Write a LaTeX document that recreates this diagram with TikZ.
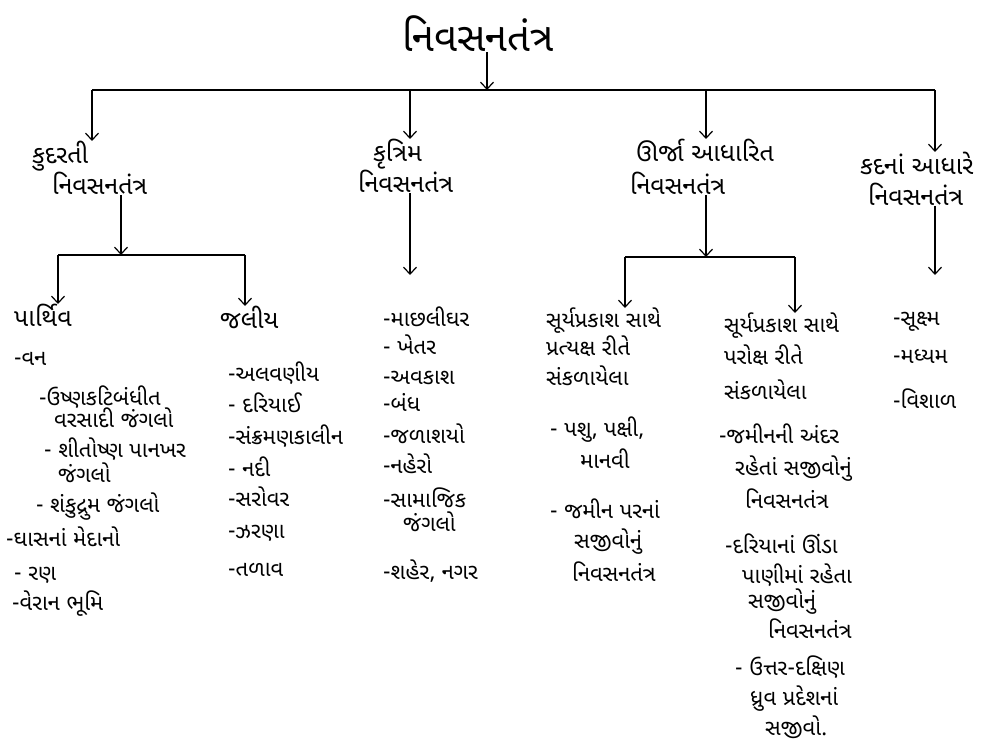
\documentclass[tikz,border=0pt]{standalone}
\usepackage{fontspec}
\newfontfamily\guj[Script=Gujarati]{Noto Sans Gujarati UI}
\usetikzlibrary{arrows.meta}
\begin{document}
\begin{tikzpicture}[x=1pt,y=-1pt,
  txt/.style={inner sep=0pt,anchor=north west,align=left,font=\guj\fontsize{22}{30}\selectfont},
  head/.style={txt,font=\guj\fontsize{25}{31}\selectfont},
  conn/.style={line width=1.2pt},
  arr/.style={conn,-{Straight Barb[length=7pt,width=13pt,line width=1.2pt]}}]
\fill[white] (0,0) rectangle (995,751);
\useasboundingbox (0,0) rectangle (995,751);
% title
\node[inner sep=0pt,font=\guj\fontsize{40}{46}\selectfont] (title) at (478,34) {નિવસનતંત્ર};
% level 1
\node[head] (kud) at (32,141) {કુદરતી\\\hspace{20pt}નિવસનતંત્ર};
\node[head] (kru) at (358,139) {\hspace{15pt}કૃત્રિમ\\નિવસનતંત્ર};
\node[head] (urja) at (630,139) {\hspace{6pt}ઊર્જા આધારિત\\[2pt]નિવસનતંત્ર};
\node[head] (kad) at (860,152) {કદનાં આધારે\\\hspace{8pt}નિવસનતંત્ર};
% junctions top bar
\coordinate (top) at (487,90);
\coordinate (b1) at (92,90);
\coordinate (b2) at (410,90);
\coordinate (b3) at (706,90);
\coordinate (b4) at (935,90);
\draw[arr] (title.south -| top) -- (top);
\draw[conn] (b1) -- (b4);
\draw[arr] (b1) -- (b1 |- kud.north);
\draw[arr] (b2) -- (b2 |- kru.north);
\draw[arr] (b3) -- (b3 |- urja.north);
\draw[arr] (b4) -- (b4 |- kad.north);
% level 2 natural
\node[head] (par) at (14,304) {પાર્થિવ};
\node[head] (jal) at (220,306) {જલીય};
\coordinate (k0) at (121,255);
\coordinate (k1) at (58,255);
\coordinate (k2) at (245,255);
\draw[arr] (k0 |- kud.south) -- (k0);
\draw[conn] (k1) -- (k2);
\draw[arr] (k1) -- (k1 |- par.north);
\draw[arr] (k2) -- (k2 |- jal.north);
% terrestrial list
\node[txt] (parl) at (6,352) {\hspace{8pt}-વન\\[10pt]
\hspace{33pt}-ઉષ્ણકટિબંધીત\\[-8pt]
\hspace{48pt}વરસાદી જંગલો\\
\hspace{38pt}- શીતોષ્ણ પાનખર\\[-5pt]
\hspace{52pt}જંગલો\\
\hspace{30pt}- શંકુદ્રુમ જંગલો\\[4pt]
-ઘાસનાં મેદાનો\\[4pt]
\hspace{8pt}- રણ\\
\hspace{6pt}-વેરાન ભૂમિ};
% aquatic list
\node[txt] (jall) at (228,362) {-અલવણીય\\[1pt]
- દરિયાઈ\\[2pt]
-સંક્રમણકાલીન\\[2pt]
- નદી\\
-સરોવર\\[2pt]
-ઝરણા\\[8pt]
-તળાવ};
% artificial
\coordinate (r0) at (410,275);
\draw[arr] (r0 |- kru.south) -- (r0);
\node[txt] (krul) at (383,307) {-માછલીઘર\\[-2pt]
- ખેતર\\
-અવકાશ\\[-3pt]
-બંધ\\[2pt]
-જળાશયો\\
-નહેરો\\[4pt]
-સામાજિક\\[-6pt]
\hspace{20pt}જંગલો\\[18pt]
-શહેર, નગર};
% energy
\coordinate (u0) at (706,257);
\coordinate (u1) at (625,257);
\coordinate (u2) at (795,257);
\draw[arr] (u0 |- urja.south) -- (u0);
\draw[conn] (u1) -- (u2);
\node[txt] (dir) at (546,308) {સૂર્યપ્રકાશ સાથે\\[-2pt]પ્રત્યક્ષ રીતે\\[0pt]સંકળાયેલા};
\node[txt] (ind) at (724,313) {સૂર્યપ્રકાશ સાથે\\[2pt]પરોક્ષ રીતે\\[5pt]સંકળાયેલા};
\draw[arr] (u1) -- (u1 |- dir.north);
\draw[arr] (u2) -- (u2 |- ind.north);
\node[txt] (dirl) at (550,417) {- પશુ, પક્ષી,\\[2pt]
\hspace{30pt}માનવી\\[20pt]
- જમીન પરનાં\\
\hspace{24pt}સજીવોનું\\[3pt]
\hspace{22pt}નિવસનતંત્ર};
\node[txt] (indl) at (719,424) {-જમીનની અંદર\\[2pt]
\hspace{16pt}રહેતાં સજીવોનું\\[3pt]
\hspace{26pt}નિવસનતંત્ર\\[15pt]
\hspace{6pt}-દરિયાનાં ઊંડા\\
\hspace{23pt}પાણીમાં રહેતા\\[-5pt]
\hspace{29pt}સજીવોનું\\
\hspace{49pt}નિવસનતંત્ર\\[7pt]
\hspace{16pt}- ઉત્તર-દક્ષિણ\\
\hspace{31pt}ધ્રુવ પ્રદેશનાં\\
\hspace{46pt}સજીવો.};
% size
\coordinate (s0) at (935,275);
\draw[arr,line width=2pt] (s0 |- kad.south) -- (s0);
\node[txt] (kadl) at (893,312) {-સૂક્ષ્મ\\[8pt]-મધ્યમ\\[15pt]-વિશાળ};
\end{tikzpicture}
\end{document}
